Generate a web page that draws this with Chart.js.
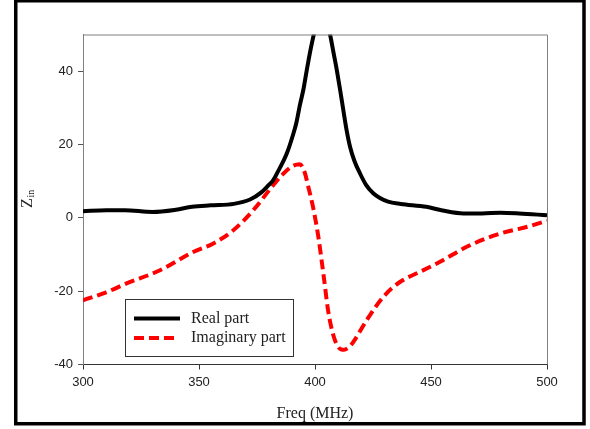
<!DOCTYPE html>
<html>
<head>
<meta charset="utf-8">
<script src="https://cdn.jsdelivr.net/npm/chart.js@4.4.1/dist/chart.umd.min.js"></script>
<style>
  html, body { margin: 0; padding: 0; background: #fff; }
  #wrap { width: 590px; height: 429px; position: relative; }
</style>
</head>
<body>
<div id="wrap"><canvas id="zin"></canvas></div>
<script>
// frequency (MHz) and impedance values
const realFreq = [300, 310, 318, 330, 340, 347, 355, 365, 372, 377, 380, 382, 384, 386.3, 388, 390.6, 392, 393.5, 395, 396.4, 398, 399.3, 400.5, 401.8, 403, 404.5, 406.5, 408, 409.4, 410.8, 412.2, 413.6, 415.1, 417, 419.4, 422, 425.1, 428, 431.5, 437, 448, 455, 464, 472, 480, 488, 500];
const realVals = [1.8, 2.1, 2.1, 1.6, 2.2, 3.0, 3.4, 3.8, 5.0, 7.0, 8.9, 10.3, 12.6, 15.4, 17.8, 22.8, 26, 30.8, 35, 40.1, 45.6, 49.5, 53, 56, 57, 55.5, 50, 45, 40.3, 35, 29.4, 24, 19.4, 15.5, 12.1, 9.0, 6.7, 5.4, 4.4, 3.8, 3.0, 2.0, 1.2, 1.2, 1.4, 1.2, 0.7];

const imagFreq = [300, 310, 318.8, 333.2, 347.5, 356.2, 364.8, 373.4, 382, 386, 390, 393.4, 395.5, 397.1, 399.3, 401.4, 403.6, 405.7, 407, 408.5, 410, 411.3, 412.5, 414, 415.5, 417.2, 422.3, 429.4, 436.6, 445, 453.9, 465.4, 479.7, 491.2, 500];
const imagVals = [-22.5, -20.3, -17.9, -14.3, -9.3, -7.0, -3.4, 2.1, 8.9, 11.8, 14.0, 14.6, 12.5, 8.5, 2.5, -5.0, -15.2, -25.5, -29.8, -33.2, -35.2, -35.9, -36, -35.6, -34.7, -33.2, -27.9, -21.6, -17.5, -14.8, -12, -7.9, -4.3, -2.5, -0.8];

const xTicks = [300, 350, 400, 450, 500];
const yTicks = [-40, -20, 0, 20, 40];
const seriesNames = ['Real part', 'Imaginary part'];

const toPoints = (xs, ys) => xs.map((x, i) => ({ x: x, y: ys[i] }));

const serif = '"Liberation Serif", "Times New Roman", serif';
const sans = '"Liberation Sans", Arial, sans-serif';

// white page, outer black frame, plot frame, titles and legend
const decor = {
  id: 'decor',
  beforeDraw(chart) {
    const ctx = chart.ctx;
    ctx.save();
    ctx.fillStyle = '#fff';
    ctx.fillRect(0, 0, chart.width, chart.height);
    ctx.restore();
  },
  afterDraw(chart) {
    const ctx = chart.ctx;
    const a = chart.chartArea;
    ctx.save();

    // top and right sides of the plot box
    ctx.strokeStyle = '#808080';
    ctx.lineWidth = 1;
    ctx.beginPath();
    ctx.moveTo(a.left, a.top + 0.5);
    ctx.lineTo(a.right + 0.5, a.top + 0.5);
    ctx.lineTo(a.right + 0.5, a.bottom);
    ctx.stroke();

    // outer frame
    ctx.strokeStyle = '#000';
    ctx.lineWidth = 3.5;
    ctx.strokeRect(15.75, 0.75, 568.25, 423);

    // x title
    ctx.fillStyle = '#222';
    ctx.font = '16px ' + serif;
    ctx.textAlign = 'center';
    ctx.textBaseline = 'alphabetic';
    ctx.fillText('Freq (MHz)', (a.left + a.right) / 2, 418);

    // y title Z_in
    ctx.translate(32, 203);
    ctx.rotate(-Math.PI / 2);
    ctx.textAlign = 'left';
    ctx.font = '16px ' + serif;
    ctx.fillText('Z', -5, 0);
    ctx.font = '10px ' + serif;
    ctx.fillText('in', 5.5, 1.5);
    ctx.setTransform(1, 0, 0, 1, 0, 0);

    // legend box
    const bx = 125.5, by = 299.5, bw = 168, bh = 57;
    ctx.strokeStyle = '#333';
    ctx.lineWidth = 1;
    ctx.strokeRect(bx, by, bw, bh);
    chart.data.datasets.forEach((ds, i) => {
      const ly = 318.5 + i * 19.5;
      ctx.strokeStyle = ds.borderColor;
      ctx.lineWidth = ds.borderWidth;
      ctx.setLineDash(ds.borderDash || []);
      ctx.beginPath();
      ctx.moveTo(134, ly);
      ctx.lineTo(i === 0 ? 180 : 174, ly);
      ctx.stroke();
      ctx.setLineDash([]);
      ctx.fillStyle = '#222';
      ctx.font = '16px ' + serif;
      ctx.textAlign = 'left';
      ctx.textBaseline = 'middle';
      ctx.fillText(ds.label, 191, ly);
    });
    ctx.restore();
  }
};

const ctx = document.getElementById('zin').getContext('2d');
const zinChart = new Chart(ctx, {
  type: 'line',
  data: {
    datasets: [
      {
        label: seriesNames[0],
        data: toPoints(realFreq, realVals),
        borderColor: '#000',
        borderWidth: 4,
        pointRadius: 0,
        cubicInterpolationMode: 'monotone',
        fill: false
      },
      {
        label: seriesNames[1],
        data: toPoints(imagFreq, imagVals),
        borderColor: '#ff0000',
        borderWidth: 4,
        borderDash: [10, 5],
        pointRadius: 0,
        cubicInterpolationMode: 'monotone',
        fill: false
      }
    ]
  },
  options: {
    responsive: true,
    maintainAspectRatio: false,
    animation: false,
    layout: { padding: { left: 0, right: 43, top: 34.5, bottom: 0 } },
    plugins: {
      legend: { display: false },
      tooltip: { enabled: false }
    },
    scales: {
      x: {
        type: 'linear',
        min: 300,
        max: 500,
        afterBuildTicks: s => { s.ticks = xTicks.map(v => ({ value: v })); },
        afterFit: s => { s.height = 64.5; },
        grid: { drawOnChartArea: false, tickLength: 5, tickColor: '#333' },
        border: { color: '#333', width: 1 },
        ticks: { color: '#222', font: { family: sans, size: 13 }, padding: 5, maxRotation: 0 }
      },
      y: {
        type: 'linear',
        min: -40,
        max: 50,
        afterBuildTicks: s => { s.ticks = yTicks.map(v => ({ value: v })); },
        afterFit: s => { s.width = 83; },
        grid: { drawOnChartArea: false, tickLength: 5, tickColor: '#555' },
        border: { color: '#808080', width: 1 },
        ticks: { color: '#222', font: { family: sans, size: 13 }, padding: 5 }
      }
    }
  },
  plugins: [decor]
});
</script>
</body>
</html>
